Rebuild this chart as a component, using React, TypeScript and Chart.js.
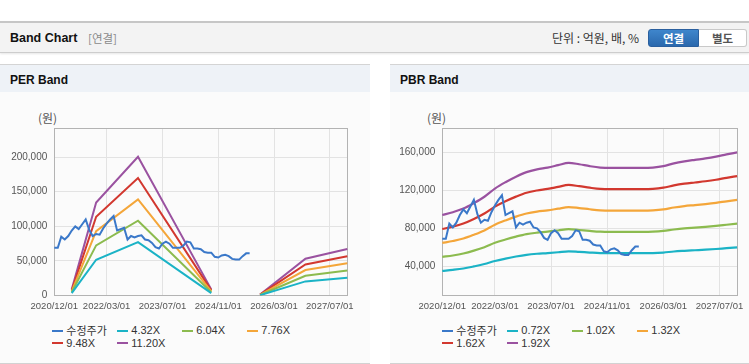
import React, { useEffect, useRef } from 'react';
import { Chart, registerables } from 'chart.js';

Chart.register(...registerables);

// ---------- categories (monthly) ----------
const months: string[] = [
  '2020/12/01',
  '2021/01/01', '2021/02/01', '2021/03/01', '2021/04/01', '2021/05/01', '2021/06/01', '2021/07/01', '2021/08/01', '2021/09/01', '2021/10/01', '2021/11/01', '2021/12/01',
  '2022/01/01', '2022/02/01', '2022/03/01', '2022/04/01', '2022/05/01', '2022/06/01', '2022/07/01', '2022/08/01', '2022/09/01', '2022/10/01', '2022/11/01', '2022/12/01',
  '2023/01/01', '2023/02/01', '2023/03/01', '2023/04/01', '2023/05/01', '2023/06/01', '2023/07/01', '2023/08/01', '2023/09/01', '2023/10/01', '2023/11/01', '2023/12/01',
  '2024/01/01', '2024/02/01', '2024/03/01', '2024/04/01', '2024/05/01', '2024/06/01', '2024/07/01', '2024/08/01', '2024/09/01', '2024/10/01', '2024/11/01', '2024/12/01',
  '2025/01/01', '2025/02/01', '2025/03/01', '2025/04/01', '2025/05/01', '2025/06/01', '2025/07/01', '2025/08/01', '2025/09/01', '2025/10/01', '2025/11/01', '2025/12/01',
  '2026/01/01', '2026/02/01', '2026/03/01', '2026/04/01', '2026/05/01', '2026/06/01', '2026/07/01', '2026/08/01', '2026/09/01', '2026/10/01', '2026/11/01', '2026/12/01',
  '2027/01/01', '2027/02/01', '2027/03/01', '2027/04/01', '2027/05/01', '2027/06/01', '2027/07/01', '2027/08/01', '2027/09/01', '2027/10/01', '2027/11/01', '2027/12/01',
];
const xTickLabels = ['2020/12/01', '2022/03/01', '2023/07/01', '2024/11/01', '2026/03/01', '2027/07/01'];

// ---------- adjusted price (monthly from 2020/12) ----------
const adjPrice = [
  69000, 69000, 85000, 81000, 86000, 94000, 100000, 96000, 103000, 110000,
  95000, 86000, 89000, 88000, 97000, 104000, 110000, 115000, 94000, 96000,
  98000, 81000, 86000, 84000, 86000, 87000, 81000, 80000, 76000, 70000,
  68000, 75000, 78000, 75000, 69000, 69000, 69000, 72000, 78000, 77000,
  68000, 68000, 67000, 63000, 62000, 62000, 56000, 55000, 58000, 59000,
  57000, 53000, 52000, 52000, 57000, 61000, 61000,
];

// ---------- PER band ----------
const perMonths = ['2021/05/01', '2021/12/01', '2022/12/01', '2024/09/01', '2025/03/01', '2025/11/01', '2026/12/01', '2027/12/01'];
const per432 = [3500, 51800, 77300, 3500, null, 600, 20500, 25900];
const per604 = [4800, 72500, 108100, 4800, null, 900, 28700, 36200];
const per776 = [6200, 93100, 138900, 6200, null, 1200, 36900, 46600];
const per948 = [7600, 113800, 169700, 7600, null, 1400, 45000, 56900];
const per1120 = [9000, 134400, 200500, 9000, null, 1700, 53200, 67200];
const perYTicks = [0, 50000, 100000, 150000, 200000];

// ---------- PBR band (quarterly) ----------
const pbrMonths = [
  '2020/12/01', '2021/03/01', '2021/06/01', '2021/09/01', '2021/12/01', '2022/03/01', '2022/06/01', '2022/09/01',
  '2022/12/01', '2023/03/01', '2023/06/01', '2023/09/01', '2023/12/01', '2024/03/01', '2024/06/01', '2024/09/01',
  '2024/12/01', '2025/03/01', '2025/06/01', '2025/09/01', '2025/12/01', '2026/03/01', '2026/06/01', '2026/09/01',
  '2026/12/01', '2027/03/01', '2027/06/01', '2027/09/01', '2027/12/01',
];
const pbr072 = [35300, 36400, 37800, 40000, 42500, 45700, 48200, 50400, 52200, 53300, 54000, 54900, 55900, 55300, 54600, 54000, 53900, 53900, 53900, 53900, 54000, 54600, 55700, 56400, 57000, 57600, 58300, 59200, 60000];
const pbr102 = [50000, 51500, 53600, 56600, 60200, 64800, 68300, 71400, 74000, 75500, 76500, 77800, 79200, 78300, 77300, 76500, 76300, 76300, 76300, 76300, 76500, 77300, 78800, 80000, 80800, 81600, 82600, 83800, 85000];
const pbr132 = [64700, 66700, 69300, 73300, 77900, 83800, 88400, 92400, 95700, 97700, 99000, 100700, 102400, 101400, 100100, 99000, 98700, 98700, 98700, 98700, 99000, 100000, 102000, 103500, 104500, 105600, 106900, 108500, 110000];
const pbr162 = [79400, 81800, 85100, 89900, 95600, 102900, 108500, 113400, 117500, 119900, 121500, 123600, 125700, 124400, 122800, 121500, 121200, 121200, 121200, 121200, 121500, 122800, 125200, 127000, 128300, 129600, 131200, 133200, 135000];
const pbr192 = [94100, 97000, 100800, 106600, 113300, 121900, 128600, 134400, 139200, 142100, 144000, 146500, 149000, 147500, 145500, 144000, 143600, 143600, 143600, 143600, 144000, 145500, 148400, 150500, 152100, 153600, 155500, 157800, 159900];
const pbrYTicks = [40000, 80000, 120000, 160000];

// ---------- legends ----------
const perLegend = ['수정주가', '4.32X', '6.04X', '7.76X', '9.48X', '11.20X'];
const pbrLegend = ['수정주가', '0.72X', '1.02X', '1.32X', '1.62X', '1.92X'];
const colors = ['#3a78c9', '#1bb3c6', '#8cbb4f', '#f4a63a', '#d2382f', '#9a52a0'];

const NUM_FONT = '"Liberation Sans", Arial, sans-serif';
const KR_FONT = '"Noto Sans CJK KR", "Liberation Sans", sans-serif';

const pairs = (xs: string[], ys: (number | null)[]) => xs.map((x, i) => ({ x, y: ys[i] }));

const framePlugin = {
  id: 'frame',
  beforeDatasetsDraw(chart: any) {
    const { ctx, chartArea: a } = chart;
    ctx.save();
    ctx.strokeStyle = '#b3b3b3';
    ctx.lineWidth = 1;
    const l = Math.round(a.left) + 0.5;
    const t = Math.round(a.top) + 0.5;
    const r = Math.round(a.right) + 0.5;
    const b = Math.round(a.bottom) - 0.5;
    ctx.strokeRect(l, t, r - l, b - t);
    ctx.restore();
  },
};

type BandProps = {
  left: number; top: number; width: number; height: number;
  yW: number; padRight: number; xH: number;
  yMin: number; yMax: number; yTicks: number[];
  datasets: any[];
};

function BandCanvas(p: BandProps) {
  const ref = useRef<HTMLCanvasElement>(null);
  useEffect(() => {
    const tickIdx = xTickLabels.map((l) => months.indexOf(l));
    const chart = new Chart(ref.current!, {
      type: 'line',
      data: { labels: months, datasets: p.datasets },
      options: {
        responsive: false,
        animation: false,
        layout: { padding: { top: 36, right: p.padRight, left: 0, bottom: 0 } },
        plugins: { legend: { display: false }, tooltip: { enabled: false } },
        elements: { point: { radius: 0, hoverRadius: 0 }, line: { borderWidth: 2 } },
        scales: {
          x: {
            type: 'category',
            grid: { color: '#e3e3e3', drawTicks: false },
            border: { display: false },
            ticks: {
              autoSkip: false, maxRotation: 0, minRotation: 0, padding: 5,
              color: '#555', font: { family: NUM_FONT, size: 9.5 },
            },
            afterBuildTicks(s: any) { s.ticks = tickIdx.map((v) => ({ value: v })); },
            afterFit(s: any) { s.height = p.xH; },
          },
          y: {
            min: p.yMin, max: p.yMax,
            grid: { color: '#e3e3e3', drawTicks: false },
            border: { display: false },
            ticks: {
              padding: 7, color: '#555', font: { family: NUM_FONT, size: 10 },
              callback: (v: any) => Number(v).toLocaleString('en-US'),
            },
            afterBuildTicks(s: any) { s.ticks = p.yTicks.map((v) => ({ value: v })); },
            afterFit(s: any) { s.width = p.yW; },
          },
        },
      } as any,
      plugins: [framePlugin],
    });
    return () => chart.destroy();
  }, []);
  return (
    <canvas ref={ref} width={p.width} height={p.height}
      style={{ position: 'absolute', left: p.left, top: p.top, width: p.width, height: p.height }} />
  );
}

function Legend({ left, labels }: { left: number; labels: string[] }) {
  return (
    <div style={{ position: 'absolute', left, top: 324.2, width: 300, height: 30 }}>
      {labels.map((lab, i) => {
        const kr = /[가-힣]/.test(lab);
        return (
          <div key={lab} style={{
            position: 'absolute', left: (i % 4) * 65, top: Math.floor(i / 4) * 12.6,
            height: 13, display: 'flex', alignItems: 'center', whiteSpace: 'nowrap',
          }}>
            <span style={{ display: 'inline-block', width: 11, height: 2, background: colors[i], marginRight: 3 }} />
            <span style={{ fontFamily: kr ? KR_FONT : NUM_FONT, fontSize: 11, color: '#333', lineHeight: '13px' }}>{lab}</span>
          </div>
        );
      })}
    </div>
  );
}

function perDatasets() {
  const bands = [per432, per604, per776, per948, per1120];
  return [
    { label: perLegend[0], data: adjPrice, borderColor: colors[0], borderWidth: 2, fill: false },
    ...bands.map((b, i) => ({
      label: perLegend[i + 1], data: pairs(perMonths, b), borderColor: colors[i + 1], borderWidth: 2, fill: false, spanGaps: false,
    })),
  ];
}

function pbrDatasets() {
  const bands = [pbr072, pbr102, pbr132, pbr162, pbr192];
  return [
    { label: pbrLegend[0], data: adjPrice, borderColor: colors[0], borderWidth: 2, fill: false },
    ...bands.map((b, i) => ({
      label: pbrLegend[i + 1], data: pairs(pbrMonths, b), borderColor: colors[i + 1], borderWidth: 2.2, fill: false,
      cubicInterpolationMode: 'monotone',
    })),
  ];
}

const boldTitle: React.CSSProperties = {
  fontFamily: NUM_FONT, fontWeight: 'bold', fontSize: 12, color: '#111', lineHeight: '16px', whiteSpace: 'nowrap',
};

function Panel({ left, width, title }: { left: number; width: number; title: string }) {
  return (
    <div style={{
      position: 'absolute', left, top: 64, width, height: 298, background: '#fbfbfb',
      borderTop: '1px solid #d4d4d4', borderBottom: '1px solid #d2d2d2',
    }}>
      <div style={{
        position: 'absolute', left: 0, top: 0, width, height: 27, background: '#eef2f7',
      }}>
        <span style={{ ...boldTitle, position: 'absolute', left: 10, top: 7 }}>{title}</span>
      </div>
    </div>
  );
}

export default function App() {
  return (
    <div style={{ position: 'absolute', left: 0, top: 0, width: 749, height: 364, background: '#fff', overflow: 'hidden' }}>
      {/* header bar */}
      <div style={{
        position: 'absolute', left: 0, top: 21, width: 749, height: 29, background: '#f3f3f3',
        borderTop: '2px solid #c6c6c6', borderBottom: '1px solid #cdcdcd', boxShadow: '0 1px 2px rgba(0,0,0,0.10)',
      }}>
        <span style={{ ...boldTitle, position: 'absolute', left: 10, top: 7, fontSize: 12.5 }}>Band Chart</span>
        <span style={{
          position: 'absolute', left: 88, top: 7, fontFamily: KR_FONT, fontSize: 11.5, color: '#8a8a8a', lineHeight: '16px',
        }}>[연결]</span>
        <span style={{
          position: 'absolute', left: 552, top: 7, fontFamily: KR_FONT, fontSize: 12, color: '#333', lineHeight: '16px', whiteSpace: 'nowrap',
        }}>단위 : 억원, 배, %</span>
        <div style={{
          position: 'absolute', left: 648, top: 6, width: 51, height: 18, boxSizing: 'border-box',
          background: 'linear-gradient(#3f86cc, #2a68ad)', border: '1px solid #2a5f9e', borderRadius: '3px 0 0 3px',
          color: '#fff', fontFamily: KR_FONT, fontWeight: 'bold', fontSize: 11.5, lineHeight: '16px', textAlign: 'center',
        }}>연결</div>
        <div style={{
          position: 'absolute', left: 699, top: 6, width: 48, height: 18, boxSizing: 'border-box',
          background: '#fff', border: '1px solid #c9c9c9', borderLeft: 'none', borderRadius: '0 3px 3px 0',
          color: '#555', fontFamily: KR_FONT, fontWeight: 'bold', fontSize: 11.5, lineHeight: '16px', textAlign: 'center',
        }}>별도</div>
      </div>

      <Panel left={0} width={370} title="PER Band" />
      <Panel left={390} width={359} title="PBR Band" />

      <span style={{ position: 'absolute', left: 38, top: 110, fontFamily: KR_FONT, fontSize: 12, color: '#555', lineHeight: '16px' }}>(원)</span>
      <span style={{ position: 'absolute', left: 427, top: 110, fontFamily: KR_FONT, fontSize: 12, color: '#555', lineHeight: '16px' }}>(원)</span>

      <BandCanvas left={0} top={92} width={370} height={230} yW={54.3} padRight={22.7} xH={26.4}
        yMin={0} yMax={242000} yTicks={perYTicks} datasets={perDatasets()} />
      <BandCanvas left={390} top={92} width={359} height={230} yW={52.3} padRight={11.7} xH={26.4}
        yMin={9300} yMax={185600} yTicks={pbrYTicks} datasets={pbrDatasets()} />

      <Legend left={52.3} labels={perLegend} />
      <Legend left={442.3} labels={pbrLegend} />
    </div>
  );
}
